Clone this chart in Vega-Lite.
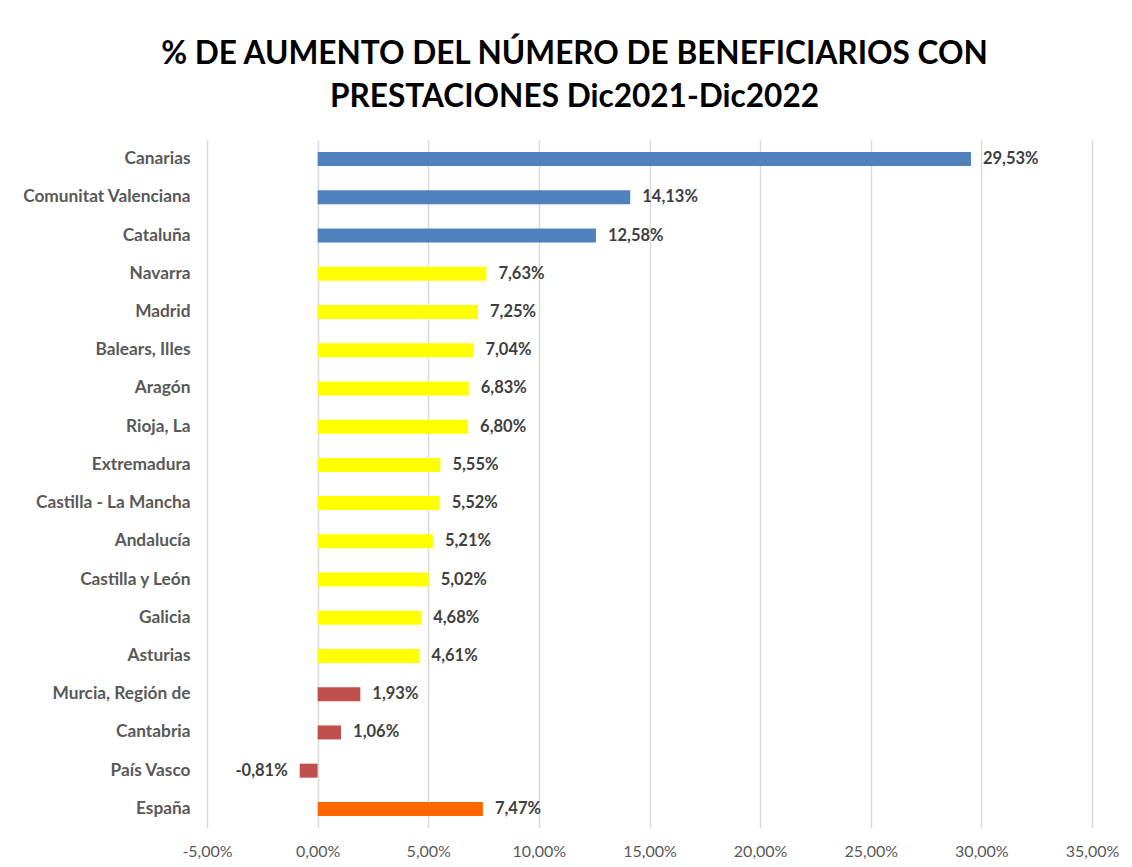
{
  "$schema": "https://vega.github.io/schema/vega-lite/v6.json",
  "autosize": {"type": "none"},
  "width": 885,
  "height": 688,
  "padding": {"left": 207, "top": 140, "right": 40, "bottom": 39},
  "background": "white",
  "config": {
    "locale": {"number": {"decimal": ",", "thousands": ".", "grouping": [3], "currency": ["", " €"], "minus": "-"}},
    "view": {"stroke": null},
    "font": "Lato"
  },
  "title": {
    "text": ["% DE AUMENTO DEL NÚMERO DE BENEFICIARIOS CON", "PRESTACIONES Dic2021-Dic2022"],
    "font": "Lato",
    "fontSize": 31.6,
    "fontWeight": "bold",
    "color": "#000000",
    "anchor": "middle",
    "dx": -75,
    "offset": 26,
    "lineHeight": 43
  },
  "data": {
    "values": [
      {"region": "Canarias", "valor": 0.2953, "grupo": "alto"},
      {"region": "Comunitat Valenciana", "valor": 0.1413, "grupo": "alto"},
      {"region": "Cataluña", "valor": 0.1258, "grupo": "alto"},
      {"region": "Navarra", "valor": 0.0763, "grupo": "medio"},
      {"region": "Madrid", "valor": 0.0725, "grupo": "medio"},
      {"region": "Balears, Illes", "valor": 0.0704, "grupo": "medio"},
      {"region": "Aragón", "valor": 0.0683, "grupo": "medio"},
      {"region": "Rioja, La", "valor": 0.068, "grupo": "medio"},
      {"region": "Extremadura", "valor": 0.0555, "grupo": "medio"},
      {"region": "Castilla - La Mancha", "valor": 0.0552, "grupo": "medio"},
      {"region": "Andalucía", "valor": 0.0521, "grupo": "medio"},
      {"region": "Castilla y León", "valor": 0.0502, "grupo": "medio"},
      {"region": "Galicia", "valor": 0.0468, "grupo": "medio"},
      {"region": "Asturias", "valor": 0.0461, "grupo": "medio"},
      {"region": "Murcia, Región de", "valor": 0.0193, "grupo": "bajo"},
      {"region": "Cantabria", "valor": 0.0106, "grupo": "bajo"},
      {"region": "País Vasco", "valor": -0.0081, "grupo": "bajo"},
      {"region": "España", "valor": 0.0747, "grupo": "total"}
    ]
  },
  "encoding": {
    "y": {
      "field": "region",
      "type": "nominal",
      "sort": null,
      "title": null,
      "axis": {
        "domain": false,
        "ticks": false,
        "labelFont": "Lato",
        "labelFontSize": 17.3,
        "labelFontWeight": "bold",
        "labelColor": "#595959",
        "labelPadding": 17
      }
    },
    "x": {
      "field": "valor",
      "type": "quantitative",
      "title": null,
      "scale": {"domain": [-0.05, 0.35], "nice": false},
      "axis": {
        "values": [-0.05, 0, 0.05, 0.1, 0.15, 0.2, 0.25, 0.3, 0.35],
        "format": ".2%",
        "domain": false,
        "ticks": false,
        "grid": true,
        "gridColor": "#d9d9d9",
        "gridWidth": 1.5,
        "labelFlush": false,
        "labelFont": "Lato",
        "labelFontSize": 16,
        "labelColor": "#595959",
        "labelPadding": 15
      }
    }
  },
  "layer": [
    {
      "mark": {"type": "bar", "size": 14},
      "encoding": {
        "color": {
          "field": "grupo",
          "type": "nominal",
          "legend": null,
          "scale": {"domain": ["alto", "medio", "bajo", "total"], "range": ["#4F81BD", "#FFFF00", "#C0504D", "#FF6600"]}
        }
      }
    },
    {
      "transform": [{"filter": "datum.valor >= 0"}],
      "mark": {"type": "text", "align": "left", "baseline": "middle", "dx": 12, "font": "Lato", "fontSize": 16.5, "fontWeight": "bold", "color": "#404040"},
      "encoding": {"text": {"field": "valor", "type": "quantitative", "format": ".2%"}}
    },
    {
      "transform": [{"filter": "datum.valor < 0"}],
      "mark": {"type": "text", "align": "right", "baseline": "middle", "dx": -12, "font": "Lato", "fontSize": 16.5, "fontWeight": "bold", "color": "#404040"},
      "encoding": {"text": {"field": "valor", "type": "quantitative", "format": ".2%"}}
    }
  ]
}
